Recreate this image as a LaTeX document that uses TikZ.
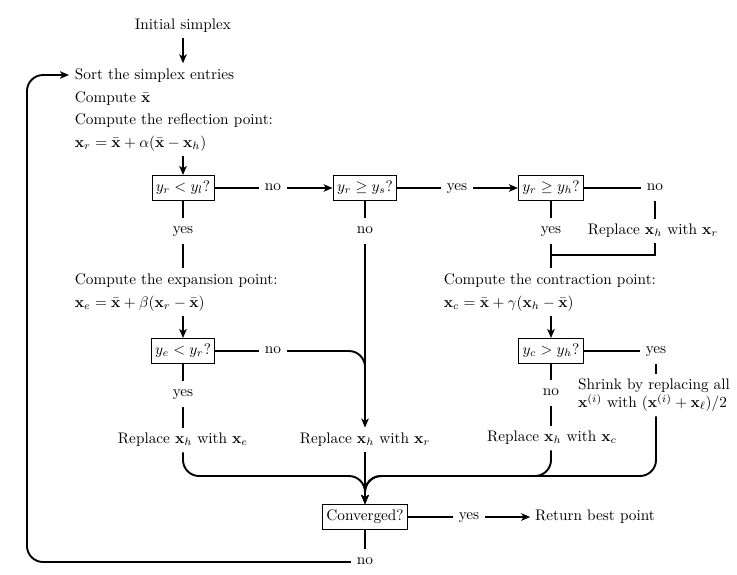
\documentclass[tikz,border=0pt]{standalone}
\usepackage{amsmath}
\usetikzlibrary{arrows.meta}
\begin{document}
\begin{tikzpicture}[x=0.654pt,y=-0.654pt,
  line width=1.25pt,
  >={Stealth[length=5.9pt,width=4.9pt,inset=1.6pt]},
  box/.style={draw,line width=0.6pt,inner xsep=2.6pt,inner ysep=3.3pt,text height=7.2pt,text depth=2.6pt},
  lbl/.style={inner xsep=3.3pt,inner ysep=4pt,text height=5.9pt,text depth=2pt},
  blk/.style={anchor=north west,align=left,inner xsep=0pt,inner ysep=3pt,font=\linespread{1.225}\selectfont},
  ctr/.style={inner xsep=2.6pt,inner ysep=2.6pt,text height=7.2pt,text depth=2.6pt},
  multi/.style={align=left,inner sep=2.6pt},
  rc/.style={rounded corners=10.5pt}]
\useasboundingbox (0,0) rectangle (737,574);

% text blocks
\node[ctr] (init) at (183,26) {Initial simplex};
\node[blk] (refl) at (74,63.3) {Sort the simplex entries\\
  Compute $\bar{\mathbf{x}}$\\
  Compute the reflection point:\\
  $\mathbf{x}_r = \bar{\mathbf{x}} + \alpha(\bar{\mathbf{x}} - \mathbf{x}_h)$};
\coordinate (sortin) at (69,75);

% first row
\node[box] (b1) at (183,188) {$y_r < y_l$?};
\node[lbl] (no1) at (273,188) {no};
\node[box] (b2) at (365,188) {$y_r \ge y_s$?};
\node[lbl] (yes2) at (457,188) {yes};
\node[box] (b3) at (551,188) {$y_r \ge y_h$?};
\node[lbl] (no3) at (655,188) {no};

\node[lbl] (yes1) at (183,231) {yes};
\node[lbl] (no2) at (365,231) {no};
\node[lbl] (yes3) at (551,231) {yes};
\node[ctr] (repr) at (653,231) {Replace $\mathbf{x}_h$ with $\mathbf{x}_r$};
\coordinate (j) at (551,255);

\node[blk] (expa) at (74,268.3) {Compute the expansion point:\\
  $\mathbf{x}_e = \bar{\mathbf{x}} + \beta(\mathbf{x}_r - \bar{\mathbf{x}})$};
\node[blk] (cont) at (443,268.3) {Compute the contraction point:\\
  $\mathbf{x}_c = \bar{\mathbf{x}} + \gamma(\mathbf{x}_h - \bar{\mathbf{x}})$};

% second row
\node[box] (b4) at (183,351) {$y_e < y_r$?};
\node[lbl] (no4) at (273,351) {no};
\node[box] (b5) at (551,351) {$y_c > y_h$?};
\node[lbl] (yes5) at (656,351) {yes};
\node[lbl] (yes4) at (183,394) {yes};
\node[lbl] (no5) at (551,393) {no};
\node[multi] (shr) at (654,395) {Shrink by replacing all\\ $\mathbf{x}^{(i)}$ with $(\mathbf{x}^{(i)}+\mathbf{x}_\ell)/2$};

\node[ctr] (repe) at (183,440) {Replace $\mathbf{x}_h$ with $\mathbf{x}_e$};
\node[ctr] (repm) at (365,440) {Replace $\mathbf{x}_h$ with $\mathbf{x}_r$};
\node[ctr] (repc) at (552,438) {Replace $\mathbf{x}_h$ with $\mathbf{x}_c$};

% bottom
\node[box] (conv) at (365,517) {Converged?};
\node[lbl] (yes6) at (469,517) {yes};
\node[ctr] (ret) at (595,517) {Return best point};
\node[lbl] (no6) at (365,562) {no};

% connectors
\draw[->] (init.south) -- (init.south |- refl.north);
\draw[->] (b1.north |- refl.south) -- (b1);
\draw (b1) -- (no1);
\draw[->] (no1) -- (b2);
\draw (b2) -- (yes2);
\draw[->] (yes2) -- (b3);
\draw (b3) -- (no3);
\draw (b1) -- (yes1);
\draw (yes1) -- (yes1 |- expa.north);
\draw (b2) -- (no2);
\draw[->] (no2) -- (repm);
\draw (b3) -- (yes3);
\draw (yes3) -- (yes3 |- cont.north);
\draw (no3) -- (no3 |- repr.north);
\draw (no3 |- repr.south) |- (j);
\draw[->] (b4.north |- expa.south) -- (b4);
\draw[->] (b5.north |- cont.south) -- (b5);
\draw (b4) -- (no4);
\draw[rc] (no4) -- (no2 |- no4) -- ++(0,30);
\draw (b4) -- (yes4);
\draw (yes4) -- (repe);
\draw (b5) -- (no5);
\draw (no5) -- (no5 |- repc.north);
\draw (b5) -- (yes5);
\draw (yes5) -- (yes5 |- shr.north);
\draw[->,rc] (repe) -- (183,476) -- (365,476) -- (conv);
\draw[->] (repm) -- (conv);
\draw[->,rc] (repc.south -| no5) -- (551,476) -- (365,476) -- (conv);
\draw[->,rc] (yes5 |- shr.south) -- (656,476) -- (365,476) -- (conv);
\draw (conv) -- (yes6);
\draw[->] (yes6) -- (ret);
\draw (conv) -- (no6);
\draw[->,rc] (no6) -- (27,562) -- (27,75) -- (sortin);
\end{tikzpicture}
\end{document}
